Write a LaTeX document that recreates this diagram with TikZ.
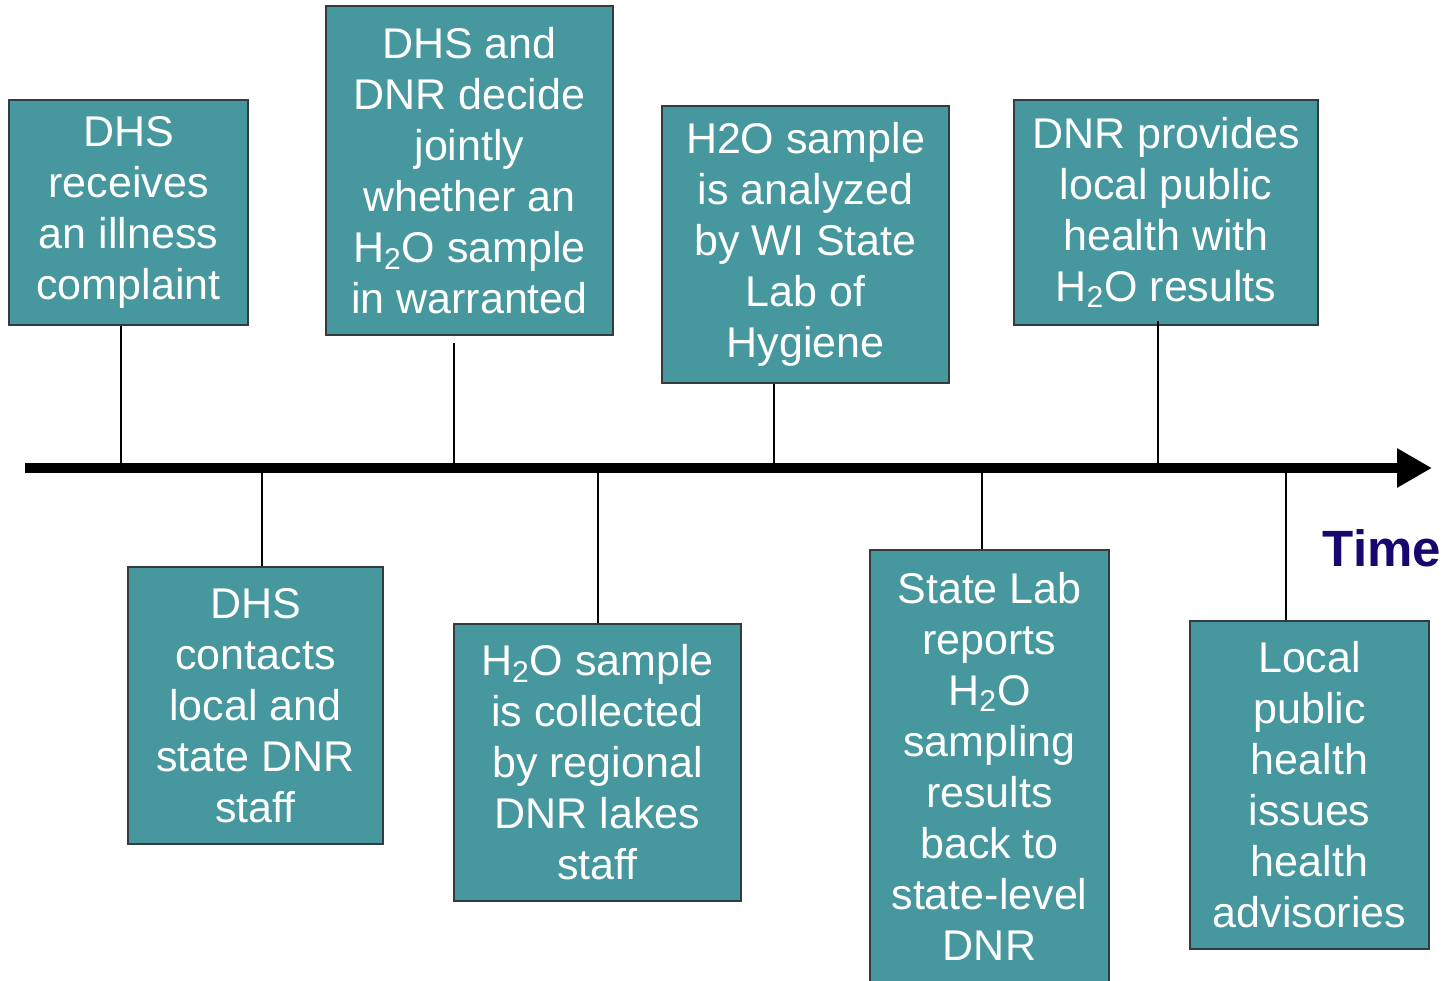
\documentclass[tikz,border=0pt]{standalone}
\usepackage{fontspec}
\setmainfont{Liberation Sans}
\usetikzlibrary{arrows.meta}
\definecolor{boxfill}{RGB}{70,151,158}
\definecolor{boxline}{RGB}{50,60,62}
\definecolor{timecol}{RGB}{22,8,110}
\newcommand{\hto}{H\textsubscript{2}O}
\tikzset{
  tbox/.style={draw=boxline, line width=0.6pt, fill=boxfill, text=white, align=center,
    inner sep=0pt, font=\fontsize{21.5}{25.5}\selectfont},
  tick/.style={line width=1pt, black},
  timeline/.style={line width=5pt, -{Triangle[length=17.5pt,width=18.5pt]}}
}
\begin{document}
\begin{tikzpicture}[x=0.5pt,y=-0.5pt]
\path[use as bounding box] (0,0) rectangle (1456,980);
\clip (0,0) rectangle (1456,980);
% timeline
\coordinate (ts) at (25,468);
\coordinate (te) at (1432,468);
\draw[timeline] (ts) -- (te);
\node[font=\bfseries\fontsize{25.5}{30}\selectfont, text=timecol, inner sep=0pt] (time) at (1382,548) {Time};
% top boxes
\node[tbox, minimum width=119.5pt, minimum height=112.5pt] (b1) at (128.5,212.5)
  {DHS\\receives\\an illness\\complaint};
\node[tbox, minimum width=143.5pt, minimum height=164.5pt] (b2) at (469.5,170.5)
  {DHS and\\DNR decide\\jointly\\whether an\\\hto{} sample\\in warranted};
\node[tbox, minimum width=143.5pt, minimum height=138.5pt] (b3) at (805.5,244.5)
  {H2O sample\\is analyzed\\by WI State\\Lab of\\Hygiene};
\node[tbox, minimum width=152pt, minimum height=112.5pt] (b4) at (1166,212.5)
  {DNR provides\\local public\\health with\\\hto{} results};
% bottom boxes
\node[tbox, minimum width=127.5pt, minimum height=138.5pt] (b5) at (255.5,705.5)
  {DHS\\contacts\\local and\\state DNR\\staff};
\node[tbox, minimum width=143.5pt, minimum height=138.5pt] (b6) at (597.5,762.5)
  {\hto{} sample\\is collected\\by regional\\DNR lakes\\staff};
\node[tbox, minimum width=119.5pt, minimum height=216pt] (b7) at (989.5,766)
  {State Lab\\reports\\\hto\\sampling\\results\\back to\\state-level\\DNR};
\node[tbox, minimum width=119.5pt, minimum height=164pt] (b8) at (1309.5,785)
  {Local\\public\\health\\issues\\health\\advisories};
% tick points on the timeline
\coordinate (t1) at (121,468);
\coordinate (t2) at (454,468);
\coordinate (t3) at (774,468);
\coordinate (t4) at (1158,468);
\coordinate (t5) at (262,468);
\coordinate (t6) at (598,468);
\coordinate (t7) at (982,468);
\coordinate (t8) at (1286,468);
\coordinate (c2) at (454,343);
\coordinate (c4) at (1158,321);
% connectors
\draw[tick] (t1 |- b1.south) -- (t1);
\draw[tick] (c2) -- (t2);
\draw[tick] (t3 |- b3.south) -- (t3);
\draw[tick] (c4) -- (t4);
\draw[tick] (t5 |- b5.north) -- (t5);
\draw[tick] (t6 |- b6.north) -- (t6);
\draw[tick] (t7 |- b7.north) -- (t7);
\draw[tick] (t8 |- b8.north) -- (t8);
\end{tikzpicture}
\end{document}
